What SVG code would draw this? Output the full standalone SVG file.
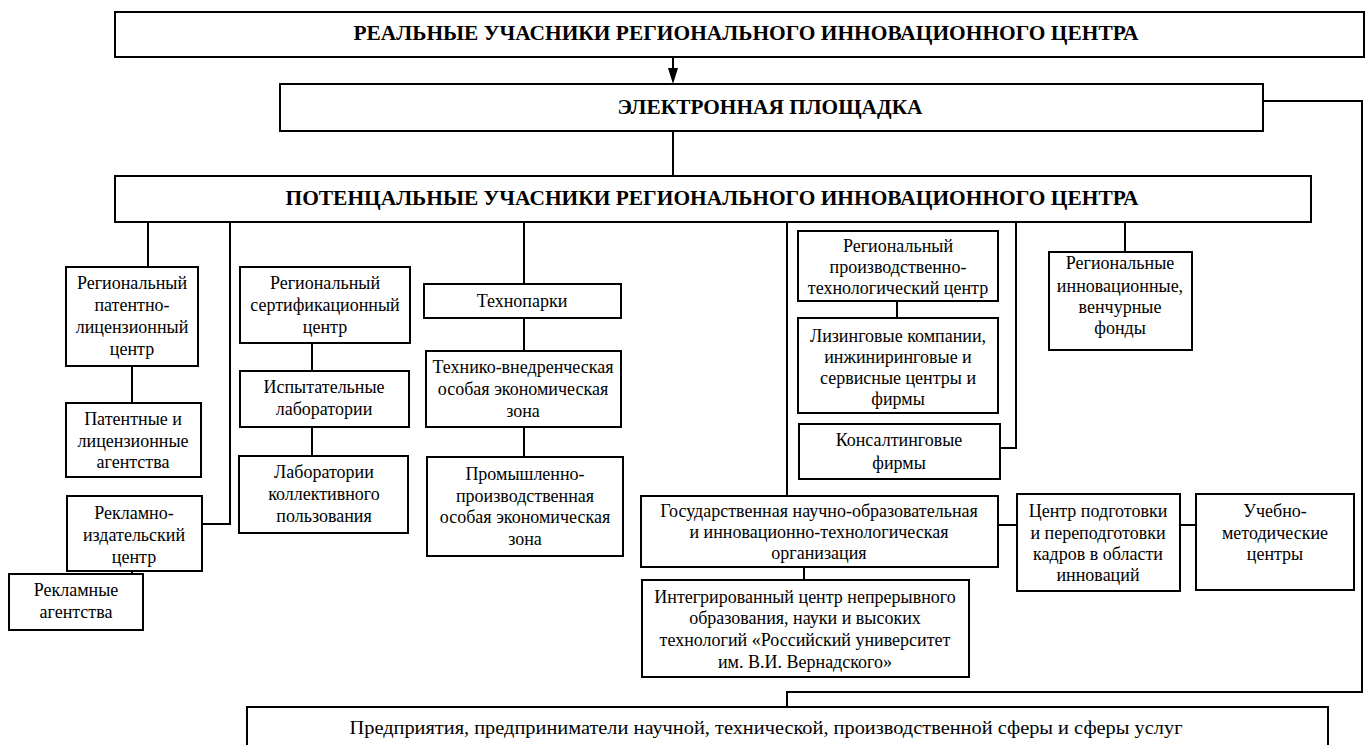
<svg xmlns="http://www.w3.org/2000/svg" width="1365" height="745" viewBox="0 0 1365 745">
  <style>
    .box { fill: #ffffff; stroke: #000000; stroke-width: 2; }
    .ln { fill: none; stroke: #000000; stroke-width: 2; }
    .t { font-size: 18px; fill: #000000; text-anchor: middle; }
    .h { font-size: 20px; font-weight: bold; fill: #000000; text-anchor: middle; }
  </style>
  <rect x="0" y="0" width="1365" height="745" fill="#ffffff"/>

  <!-- connectors -->
  <g id="connectors">
    <line class="ln" x1="673" y1="57" x2="673" y2="70"/>
    <polygon points="668,68 678,68 673,84" fill="#000000"/>
    <line class="ln" x1="673" y1="131" x2="673" y2="176"/>
    <polyline class="ln" points="1263,101 1362,101 1362,692 787,692 787,707"/>
    <line class="ln" x1="148" y1="222" x2="148" y2="267"/>
    <polyline class="ln" points="230,222 230,524 202,524"/>
    <line class="ln" x1="524" y1="222" x2="524" y2="284"/>
    <line class="ln" x1="787" y1="222" x2="787" y2="496"/>
    <polyline class="ln" points="1016,222 1016,448 1000,448"/>
    <line class="ln" x1="1125" y1="222" x2="1125" y2="252"/>
    <line class="ln" x1="132" y1="366" x2="132" y2="403"/>
    <line class="ln" x1="132" y1="571" x2="132" y2="574"/>
    <line class="ln" x1="312" y1="343" x2="312" y2="371"/>
    <line class="ln" x1="312" y1="427" x2="312" y2="456"/>
    <line class="ln" x1="524" y1="318" x2="524" y2="351"/>
    <line class="ln" x1="524" y1="427" x2="524" y2="457"/>
    <line class="ln" x1="897" y1="301" x2="897" y2="318"/>
    <line class="ln" x1="804" y1="567" x2="804" y2="580"/>
    <line class="ln" x1="998" y1="525" x2="1017" y2="525"/>
    <line class="ln" x1="1180" y1="525" x2="1196" y2="525"/>
  </g>

  <g id="nodes" font-family="Liberation Serif, Times New Roman, serif">
  <g id="real-participants">
    <rect class="box" x="115" y="12" width="1249" height="45"/>
    <text class="h" x="746" y="40" textLength="785" lengthAdjust="spacingAndGlyphs">РЕАЛЬНЫЕ УЧАСНИКИ РЕГИОНАЛЬНОГО ИННОВАЦИОННОГО ЦЕНТРА</text>
  </g>

  <g id="e-platform">
    <rect class="box" x="280" y="84" width="983" height="47"/>
    <text class="h" x="770" y="114" textLength="305" lengthAdjust="spacingAndGlyphs">ЭЛЕКТРОННАЯ ПЛОЩАДКА</text>
  </g>

  <g id="potential-participants">
    <rect class="box" x="115" y="176" width="1196" height="46"/>
    <text class="h" x="712" y="205" textLength="853" lengthAdjust="spacingAndGlyphs">ПОТЕНЦАЛЬНЫЕ УЧАСНИКИ РЕГИОНАЛЬНОГО ИННОВАЦИОННОГО ЦЕНТРА</text>
  </g>

  <g id="patent-center">
    <rect class="box" x="66" y="267" width="132" height="99"/>
    <text class="t" x="132" y="289">Региональный</text>
    <text class="t" x="132" y="311">патентно-</text>
    <text class="t" x="132" y="333">лицензионный</text>
    <text class="t" x="132" y="355">центр</text>
  </g>

  <g id="patent-agencies">
    <rect class="box" x="66" y="403" width="135" height="74"/>
    <text class="t" x="133" y="425">Патентные и</text>
    <text class="t" x="133" y="447">лицензионные</text>
    <text class="t" x="133" y="468">агентства</text>
  </g>

  <g id="publishing-center">
    <rect class="box" x="67" y="496" width="135" height="75"/>
    <text class="t" x="134" y="519">Рекламно-</text>
    <text class="t" x="134" y="541">издательский</text>
    <text class="t" x="134" y="563">центр</text>
  </g>

  <g id="ad-agencies">
    <rect class="box" x="9" y="574" width="134" height="56"/>
    <text class="t" x="76" y="596">Рекламные</text>
    <text class="t" x="76" y="618">агентства</text>
  </g>

  <g id="certification-center">
    <rect class="box" x="240" y="267" width="170" height="76"/>
    <text class="t" x="325" y="289">Региональный</text>
    <text class="t" x="325" y="311">сертификационный</text>
    <text class="t" x="325" y="333">центр</text>
  </g>

  <g id="test-labs">
    <rect class="box" x="240" y="371" width="169" height="56"/>
    <text class="t" x="324" y="393">Испытательные</text>
    <text class="t" x="324" y="415">лаборатории</text>
  </g>

  <g id="shared-labs">
    <rect class="box" x="239" y="456" width="169" height="77"/>
    <text class="t" x="324" y="478">Лаборатории</text>
    <text class="t" x="324" y="500">коллективного</text>
    <text class="t" x="324" y="522">пользования</text>
  </g>

  <g id="technoparks">
    <rect class="box" x="424" y="284" width="197" height="34"/>
    <text class="t" x="522" y="307">Технопарки</text>
  </g>

  <g id="tech-sez">
    <rect class="box" x="426" y="351" width="195" height="76"/>
    <text class="t" x="523" y="373">Технико-внедренческая</text>
    <text class="t" x="523" y="395">особая экономическая</text>
    <text class="t" x="523" y="417">зона</text>
  </g>

  <g id="industrial-sez">
    <rect class="box" x="427" y="457" width="196" height="99"/>
    <text class="t" x="525" y="480">Промышленно-</text>
    <text class="t" x="525" y="502">производственная</text>
    <text class="t" x="525" y="523">особая экономическая</text>
    <text class="t" x="525" y="545">зона</text>
  </g>

  <g id="production-center">
    <rect class="box" x="798" y="231" width="200" height="70"/>
    <text class="t" x="898" y="252">Региональный</text>
    <text class="t" x="898" y="273">производственно-</text>
    <text class="t" x="898" y="294">технологический центр</text>
  </g>

  <g id="leasing">
    <rect class="box" x="798" y="318" width="200" height="95"/>
    <text class="t" x="898" y="342">Лизинговые компании,</text>
    <text class="t" x="898" y="363">инжиниринговые и</text>
    <text class="t" x="898" y="384">сервисные центры и</text>
    <text class="t" x="898" y="405">фирмы</text>
  </g>

  <g id="consulting">
    <rect class="box" x="799" y="424" width="201" height="55"/>
    <text class="t" x="899" y="446">Консалтинговые</text>
    <text class="t" x="899" y="469">фирмы</text>
  </g>

  <g id="venture-funds">
    <rect class="box" x="1049" y="252" width="143" height="98"/>
    <text class="t" x="1120" y="269">Региональные</text>
    <text class="t" x="1120" y="292">инновационные,</text>
    <text class="t" x="1120" y="313">венчурные</text>
    <text class="t" x="1120" y="334">фонды</text>
  </g>

  <g id="state-organization">
    <rect class="box" x="641" y="496" width="357" height="71"/>
    <text class="t" x="819" y="517">Государственная научно-образовательная</text>
    <text class="t" x="819" y="538">и инновационно-технологическая</text>
    <text class="t" x="819" y="559">организация</text>
  </g>

  <g id="training-center">
    <rect class="box" x="1017" y="494" width="163" height="97"/>
    <text class="t" x="1098" y="517">Центр подготовки</text>
    <text class="t" x="1098" y="539">и переподготовки</text>
    <text class="t" x="1098" y="560">кадров в области</text>
    <text class="t" x="1098" y="581">инноваций</text>
  </g>

  <g id="methodical-centers">
    <rect class="box" x="1196" y="494" width="158" height="96"/>
    <text class="t" x="1275" y="517">Учебно-</text>
    <text class="t" x="1275" y="539">методические</text>
    <text class="t" x="1275" y="560">центры</text>
  </g>

  <g id="integrated-center">
    <rect class="box" x="642" y="580" width="327" height="97"/>
    <text class="t" x="805" y="603">Интегрированный центр непрерывного</text>
    <text class="t" x="805" y="624">образования, науки и высоких</text>
    <text class="t" x="805" y="646">технологий «Российский университет</text>
    <text class="t" x="805" y="668">им. В.И. Вернадского»</text>
  </g>

  <g id="enterprises">
    <rect class="box" x="247" y="707" width="1081" height="50"/>
    <text class="t" x="766" y="734" style="font-size:19px" textLength="833" lengthAdjust="spacingAndGlyphs">Предприятия, предприниматели научной, технической, производственной сферы и сферы услуг</text>
  </g>
  </g>
</svg>
